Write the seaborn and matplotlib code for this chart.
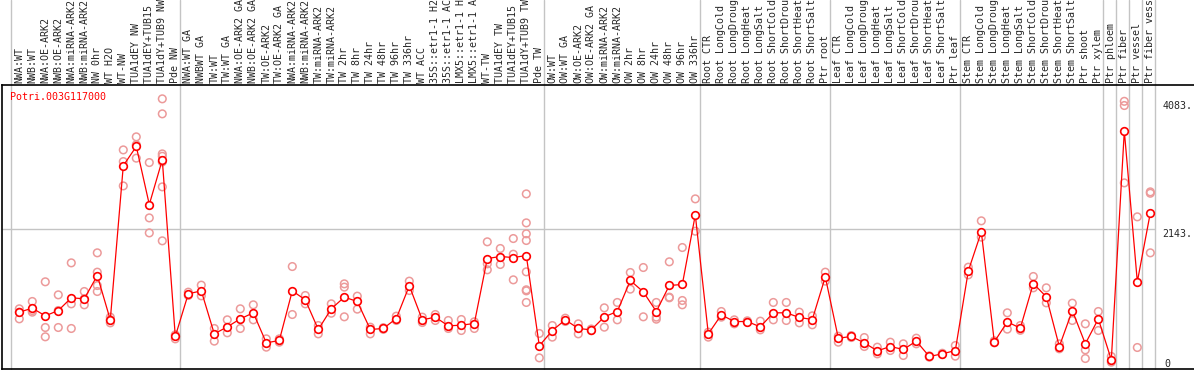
import matplotlib
matplotlib.use("Agg")
import matplotlib.pyplot as plt
import matplotlib.transforms as mtransforms
import seaborn as sns
import pandas as pd

# sample labels, grouped as in the reference (gray separators between groups)
group_nw = ["NWA:WT", "NWB:WT", "NWA:OE-ARK2", "NWB:OE-ARK2", "NWA:miRNA-ARK2",
            "NWB:miRNA-ARK2", "NW 0hr", "WT H2O", "WT-NW", "TUA1dEY NW",
            "TUA1dEY+TUB15 NW", "TUA1dY+TUB9 NW", "Pde NW"]
group_tw = ["NWA:WT GA", "NWBWT GA", "TW:WT", "TW:WT GA", "NWA:OE-ARK2 GA",
            "NWB:OE-ARK2 GA", "TW:OE-ARK2", "TW:OE-ARK2 GA", "NWA:miRNA-ARK2",
            "NWB:miRNA-ARK2", "TW:miRNA-ARK2", "TW:miRNA-ARK2", "TW 2hr", "TW 8hr",
            "TW 24hr", "TW 48hr", "TW 96hr", "TW 336hr", "WT ACC",
            "35S::etr1-1 H2O", "35S::etr1-1 ACC", "LMX5::etr1-1 H2O",
            "LMX5::etr1-1 ACC", "WT-TW", "TUA1dEY TW", "TUA1dEY+TUB15 TW",
            "TUA1dY+TUB9 TW", "Pde TW"]
group_ow = ["OW:WT", "OW:WT GA", "OW:OE-ARK2", "OW:OE-ARK2 GA", "OW:miRNA-ARK2",
            "OW:miRNA-ARK2", "OW 2hr", "OW 8hr", "OW 24hr", "OW 48hr", "OW 96hr",
            "OW 336hr"]
group_root = ["Root CTR", "Root LongCold", "Root LongDrought", "Root LongHeat",
              "Root LongSalt", "Root ShortCold", "Root ShortDrought",
              "Root ShortHeat", "Root ShortSalt", "Ptr root"]
group_leaf = ["Leaf CTR", "Leaf LongCold", "Leaf LongDrought", "Leaf LongHeat",
              "Leaf LongSalt", "Leaf ShortCold", "Leaf ShortDrought",
              "Leaf ShortHeat", "Leaf ShortSalt", "Ptr leaf"]
group_stem = ["Stem CTR", "Stem LongCold", "Stem LongDrought", "Stem LongHeat",
              "Stem LongSalt", "Stem ShortCold", "Stem ShortDrought",
              "Stem ShortHeat", "Stem ShortSalt", "Ptr shoot", "Ptr xylem"]
group_ptr = [["Ptr phloem"], ["Ptr fiber"], ["Ptr vessel"], ["Ptr fiber vessel"]]

groups = [group_nw, group_tw, group_ow, group_root, group_leaf, group_stem] + group_ptr

means = [867, 928, 811, 892, 1086, 1071, 1426, 750, 3102, 3394, 2509, 3190, 497,
         1147, 1192, 536, 643, 765, 857, 399, 435, 1192, 1055, 603, 918, 1096, 1030,
         603, 618, 770, 1269, 750, 791, 658, 669, 694, 1685, 1716, 1700, 1731, 353,
         587, 750, 618, 597, 796, 877, 1350, 1177, 877, 1274, 1289, 2352,
         536, 826, 724, 724, 643, 857, 857, 786, 755, 1405,
         470, 496, 399, 277, 343, 298, 425, 191, 231, 282,
         1497, 2092, 414, 719, 623, 1304, 1101, 343, 892, 384, 765,
         140, 3632, 1330, 2382]

replicates = [
    [918, 867, 765], [1030, 892, 867], [1330, 633, 491], [1131, 633, 892],
    [1619, 994, 618], [1182, 979, 1071], [1772, 1477, 1273, 1182], [791, 704, 750],
    [3342, 3164, 2793], [3541, 3216, 3420], [3149, 2305, 2076],
    [4121, 3892, 3281, 3245, 3159, 2778, 1955], [521, 460],
    [1172, 1121], [1279, 1116], [618, 425], [750, 552], [918, 618], [979, 750],
    [460, 333], [460, 409], [1563, 831], [1121, 994], [663, 536], [994, 851],
    [1299, 1249, 796], [1111, 913], [638, 536], [630, 605], [806, 740],
    [1340, 1197], [791, 709], [831, 740], [740, 618], [755, 587], [720, 618],
    [1940, 1513, 1604], [1838, 1594], [1990, 1751, 1360],
    [2671, 2229, 2062, 1960, 1482, 1208, 1192, 1015], [542, 170],
    [663, 486], [775, 725], [689, 536], [610, 585], [933, 638], [1015, 750],
    [1472, 1218], [1548, 796], [1015, 791, 760], [1635, 1096, 1086],
    [1853, 1045, 979], [2595, 2102],
    [486, 562], [877, 791], [750, 689], [735, 713], [730, 597], [1015, 750],
    [1015, 740], [867, 704], [811, 674], [1477, 1340],
    [409, 500], [510, 480], [480, 343], [333, 231], [409, 282], [384, 206],
    [470, 384], [200, 180], [240, 220], [358, 196],
    [1553, 1436], [2260, 2011], [430, 400], [857, 608], [663, 590],
    [1411, 1238], [1238, 1009], [384, 308], [1004, 740], [689, 292, 160],
    [877, 587],
    [191, 104], [4083, 4019, 2839], [2321, 328], [2702, 2681, 1772],
]

gene = "Potri.003G117000"
y_labels = [4083, 2143]

labels = [s for g in groups for s in g]
idx = list(range(len(labels)))
mean_df = pd.DataFrame({"idx": idx, "value": means})
rep_df = pd.DataFrame([(i, v) for i, reps in enumerate(replicates) for v in reps],
                      columns=["idx", "value"])

sns.set_style("white")
plt.rcParams["font.family"] = ["DejaVu Sans Mono"]

W, H = 1194, 370
fig = plt.figure(figsize=(W / 100, H / 100), dpi=100)
ax = fig.add_axes([2 / W, 1 / H, (W - 2) / W, 284 / H])

red = "#ff0000"
pink = "#ec9a9a"
grid = "#c4c4c4"

sns.scatterplot(data=rep_df, x="idx", y="value", marker="o", s=30,
                facecolors="none", edgecolor=pink, linewidth=1.1, ax=ax,
                zorder=3, legend=False)
sns.lineplot(data=mean_df, x="idx", y="value", color=red, linewidth=0.9,
             marker="o", markersize=5.5, markerfacecolor="white",
             markeredgecolor=red, markeredgewidth=1.2, ax=ax, zorder=4)

ax.set_xlim(-1.33, 90.36)
ax.set_ylim(0, 4332)

# group separators, extending up through the label strip
bounds = [0]
for g in groups:
    bounds.append(bounds[-1] + len(g))
sep_shift = -0.64
for b in bounds:
    ax.axvline(b + sep_shift, ymin=0, ymax=369 / 284, color=grid, lw=1,
               clip_on=False, zorder=1)
ax.hlines(2143, ax.get_xlim()[0], bounds[-1] + sep_shift, color=grid, lw=1, zorder=1)

for side in ["left", "bottom", "top"]:
    ax.spines[side].set_visible(True)
    ax.spines[side].set_color("black")
    ax.spines[side].set_linewidth(1.2)
ax.spines["right"].set_visible(False)

ax.set_yticks([])
ax.set_xticks(idx)
ax.set_xticklabels(labels, rotation=90, fontsize=7.2, family="DejaVu Sans Mono")
ax.tick_params(axis="x", bottom=False, top=False, labelbottom=False,
               labeltop=True, pad=1.5, length=0)
ax.set_xlabel("")
ax.set_ylabel("")

ax.text(0.007, 0.958, gene, transform=ax.transAxes, color=red, fontsize=7.2,
        va="center", ha="left")
lab_x = bounds[-1] + sep_shift + 0.55
for v in y_labels:
    ax.text(lab_x, v, f"{v}.", fontsize=7.2, va="top", ha="left", clip_on=False)
ax.text(lab_x + 0.2, 0, "0", fontsize=7.2, va="bottom", ha="left")

fig.savefig("out.png", dpi=100)
